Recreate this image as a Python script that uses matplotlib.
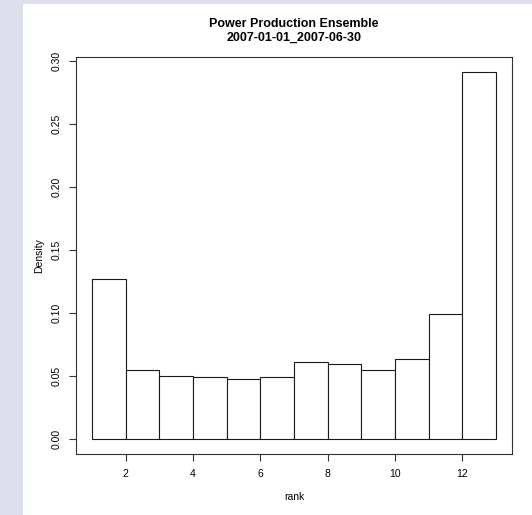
import matplotlib
matplotlib.use("Agg")
import matplotlib.pyplot as plt
from matplotlib.patches import Rectangle
import numpy as np

# rank histogram of the ensemble (density per rank bin)
bin_edges = [1, 2, 3, 4, 5, 6, 7, 8, 9, 10, 11, 12, 13]
density = [0.1269, 0.0550, 0.0503, 0.0492, 0.0479, 0.0492,
           0.0613, 0.0597, 0.0550, 0.0639, 0.0989, 0.2913]
x_ticks = [2, 4, 6, 8, 10, 12]
y_ticks = [0.00, 0.05, 0.10, 0.15, 0.20, 0.25, 0.30]

title = "Power Production Ensemble\n2007-01-01_2007-06-30"

plt.rcParams["font.family"] = ["Liberation Sans", "DejaVu Sans"]

W, H = 532, 515
fig = plt.figure(figsize=(W / 100, H / 100), dpi=100)
fig.patch.set_facecolor("#dde0ec")
fig.patches.append(Rectangle((23 / W, 0), 1 - 23 / W, 1 - 4 / H,
                             transform=fig.transFigure, facecolor="white",
                             edgecolor="none", zorder=-10))

ax = fig.add_axes([76 / W, (H - 454) / H, (512 - 76) / W, (454 - 57) / H])
ax.set_facecolor("white")

left = np.array(bin_edges[:-1])
widths = np.diff(bin_edges)
ax.bar(left, density, width=widths, align="edge", facecolor="white",
       edgecolor="#1a1a1a", linewidth=0.8)

span_x = bin_edges[-1] - bin_edges[0]
ax.set_xlim(bin_edges[0] - 0.04 * span_x, bin_edges[-1] + 0.04 * span_x)
top = max(density)
ax.set_ylim(-0.04 * top, top * 1.04)

for s in ax.spines.values():
    s.set_linewidth(0.8)
    s.set_color("#333333")

ax.set_xticks(x_ticks)
ax.set_xticklabels([str(t) for t in x_ticks])
ax.set_yticks(y_ticks)
ax.set_yticklabels([f"{t:.2f}" for t in y_ticks], rotation=90, va="center")
ax.tick_params(axis="both", direction="out", length=5, width=0.8,
               color="#333333", labelsize=7.5, pad=5)
ax.tick_params(axis="x", pad=6)

ax.set_xlabel("rank", fontsize=7.5, labelpad=9)
ax.set_ylabel("Density", fontsize=7.5, labelpad=6)
ax.set_title(title, fontsize=9, fontweight="bold", pad=12, linespacing=1.15)

fig.savefig("out.png", dpi=100, facecolor=fig.get_facecolor())
